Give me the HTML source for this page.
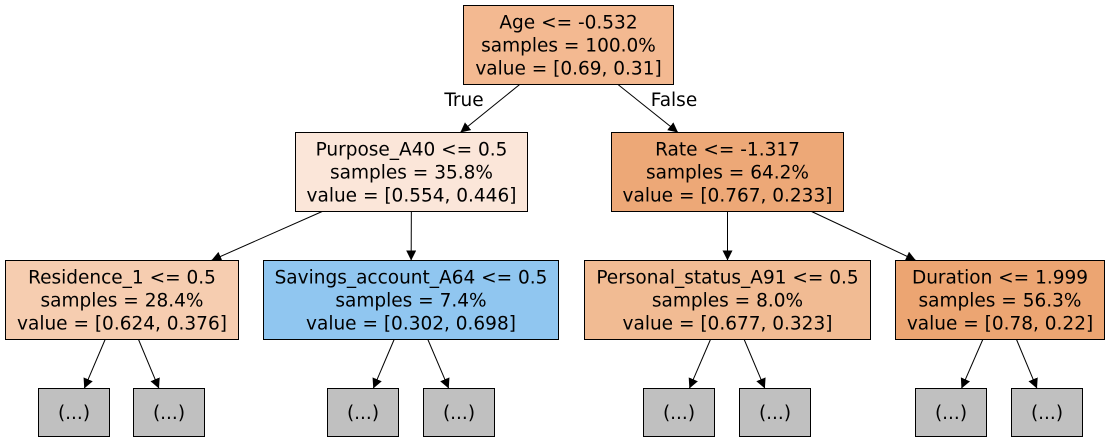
<!DOCTYPE html>
<html><head><meta charset="utf-8"><style>
html,body{margin:0;padding:0;background:#fff;}
svg{display:block;font-family:"DejaVu Sans","Liberation Sans",sans-serif;}
</style></head><body>
<svg id="tree" width="1109" height="442" viewBox="0 0 1109 442" xmlns="http://www.w3.org/2000/svg">
<defs><marker id="arr" viewBox="0 0 10 10" refX="10" refY="5" markerWidth="10" markerHeight="10" markerUnits="userSpaceOnUse" orient="auto"><path d="M0,0 L10,5 L0,10 z" fill="#000"/></marker></defs>
</svg>
<script>
const nodeNames=['root','purpose','rate','residence','savings','personal','duration','l1','l2','l3','l4','l5','l6','l7','l8'];
const nodeLabels=[
['Age <= -0.532','samples = 100.0%','value = [0.69, 0.31]'],
['Purpose_A40 <= 0.5','samples = 35.8%','value = [0.554, 0.446]'],
['Rate <= -1.317','samples = 64.2%','value = [0.767, 0.233]'],
['Residence_1 <= 0.5','samples = 28.4%','value = [0.624, 0.376]'],
['Savings_account_A64 <= 0.5','samples = 7.4%','value = [0.302, 0.698]'],
['Personal_status_A91 <= 0.5','samples = 8.0%','value = [0.677, 0.323]'],
['Duration <= 1.999','samples = 56.3%','value = [0.78, 0.22]'],
['(...)'],['(...)'],['(...)'],['(...)'],['(...)'],['(...)'],['(...)'],['(...)']];
const nodeFills=['#f3b991','#fbe6d9','#eda877','#f6cdb0','#90c6f0','#f1bb93','#eca572','#c0c0c0','#c0c0c0','#c0c0c0','#c0c0c0','#c0c0c0','#c0c0c0','#c0c0c0','#c0c0c0'];
const edgeParents=[0,0,1,1,2,2,3,3,4,4,5,5,6,6];
const edgeChildren=[1,2,3,4,5,6,7,8,9,10,11,12,13,14];
const box=[[463.5,5.5,210,79],[295.5,132.5,232,79],[611.5,132.5,232,79],[5.5,260.5,233,79],[263.5,260.5,295,79],[584.5,260.5,286,79],[895.5,260.5,209,79],
[38.5,388.5,71,48],[133.5,388.5,71,48],[327.5,388.5,71,48],[423.5,388.5,71,48],[643.5,388.5,71,48],[739.5,388.5,71,48],[915.5,388.5,71,48],[1011.5,388.5,71,48]];
const svg=document.getElementById('tree');
const NS='http://www.w3.org/2000/svg';
function mk(t,a){const e=document.createElementNS(NS,t);for(const k in a)e.setAttribute(k,a[k]);svg.appendChild(e);return e;}
nodeNames.forEach((n,i)=>{
  const [x,y,w,h]=box[i];
  const r=mk('rect',{x:x,y:y,width:w,height:h,fill:nodeFills[i],stroke:'#000','stroke-width':1});
  
  
  const lines=nodeLabels[i];
  const cy=y+h/2, lh=23;
  lines.forEach((s,j)=>{
    const t=mk('text',{x:x+w/2,y:cy+(j-(lines.length-1)/2)*lh+6.5,'text-anchor':'middle','font-size':'18.5'});
    t.textContent=s;
    
    
  });
});
edgeParents.forEach((p,k)=>{
  const c=edgeChildren[k];
  const P=box[p],C=box[c];
  const px=P[0]+P[2]/2,py=P[1]+P[3]/2,cx=C[0]+C[2]/2,cy=C[1]+C[3]/2;
  const y1=P[1]+P[3],y2=C[1];
  const x1=px+(cx-px)*(y1-py)/(cy-py);
  const x2=px+(cx-px)*(y2-py)/(cy-py);
  const l=mk('line',{x1:x1,y1:y1,x2:x2,y2:y2,stroke:'#000','stroke-width':1,'marker-end':'url(#arr)'});
  
  
});
const t1=mk('text',{x:464,y:106,'text-anchor':'middle','font-size':'18.5'});t1.textContent='True';


const t2=mk('text',{x:674,y:106,'text-anchor':'middle','font-size':'18.5'});t2.textContent='False';


</script>
</body></html>
